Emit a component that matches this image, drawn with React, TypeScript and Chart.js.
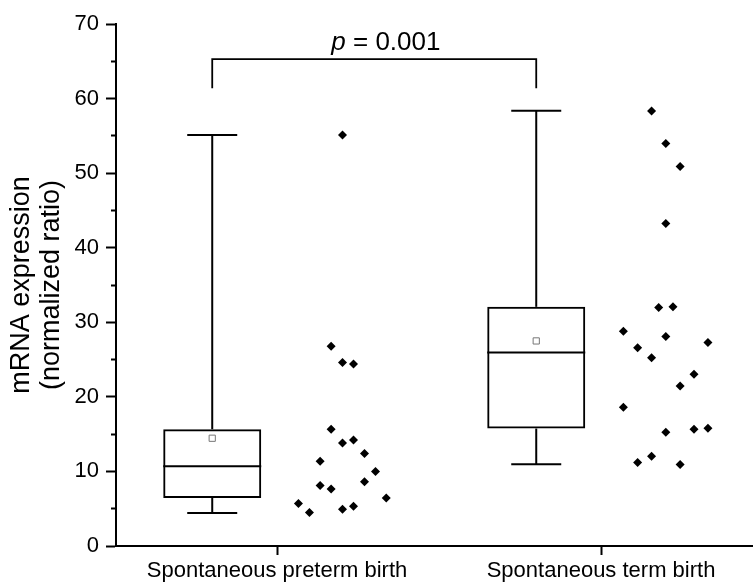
import { useEffect, useRef } from 'react';
import { Chart, registerables } from 'chart.js';

Chart.register(...registerables);

// ---- data ----
const categories = ['Spontaneous preterm birth', 'Spontaneous term birth'];
const categoryPos = [1, 2];
const boxOffset = -0.2;

const whiskerLow = [4.43, 10.96];
const q1 = [6.44, 15.75];
const median = [10.69, 25.95];
const q3 = [15.66, 32.07];
const whiskerHigh = [55.1, 58.37];
const mean = [14.45, 27.5];

const pretermValues = [5.69, 4.48, 11.37, 8.1, 26.8, 15.66, 7.65, 55.1, 24.6, 13.82, 4.92, 24.4, 14.2, 5.33, 12.4, 8.6, 10.0, 6.44];
const pretermJitter = [0.066, 0.1, 0.133, 0.133, 0.167, 0.167, 0.167, 0.202, 0.202, 0.202, 0.202, 0.236, 0.236, 0.236, 0.27, 0.27, 0.304, 0.337];

const termValues = [58.33, 53.99, 50.9, 43.26, 31.99, 32.07, 28.8, 28.1, 27.3, 26.57, 25.23, 23.04, 21.47, 18.6, 15.26, 15.66, 15.79, 11.19, 12.04, 10.92];
const termJitter = [0.156, 0.2, 0.244, 0.2, 0.178, 0.222, 0.069, 0.2, 0.33, 0.113, 0.156, 0.287, 0.244, 0.069, 0.2, 0.287, 0.33, 0.113, 0.156, 0.244];

const yMin = 0;
const yMax = 70;
const yMinorStep = 5;
const yMajorStep = 10;
const xMin = 0.503;
const xMax = 2.469;

const bracketTop = 65.3;
const bracketFoot = 61.4;
const pLabelItalic = 'p';
const pLabelRest = ' = 0.001';
const pLabelX = 1.336;
const pLabelY = 66.5;

const yTitle = ['mRNA expression', '(normalized ratio)'];

const FONT = "'Liberation Sans', Arial, Helvetica, sans-serif";

export default function App() {
  const ref = useRef<HTMLCanvasElement>(null);

  useEffect(() => {
    if (!ref.current) return;
    Chart.defaults.font.family = FONT;
    Chart.defaults.color = '#000';

    const boxX = categoryPos.map((c) => c + boxOffset);
    const datasets: any[] = [];

    datasets.push({
      type: 'scatter',
      data: pretermValues.map((y, i) => ({ x: categoryPos[0] + pretermJitter[i], y })),
      pointStyle: 'rectRot',
      pointRadius: 4.5,
      backgroundColor: '#000',
      borderWidth: 0,
    });
    datasets.push({
      type: 'scatter',
      data: termValues.map((y, i) => ({ x: categoryPos[1] + termJitter[i], y })),
      pointStyle: 'rectRot',
      pointRadius: 4.5,
      backgroundColor: '#000',
      borderWidth: 0,
    });
    // mean markers
    datasets.push({
      type: 'scatter',
      data: boxX.map((x, i) => ({ x, y: mean[i] })),
      pointStyle: 'rect',
      pointRadius: 4.4,
      backgroundColor: '#fff',
      borderColor: '#777',
      borderWidth: 1,
    });
    // medians
    datasets.push({
      type: 'scatter',
      data: boxX.map((x, i) => ({ x, y: median[i] })),
      pointStyle: 'line',
      pointRadius: 49,
      borderColor: '#000',
      borderWidth: 2,
    });
    // whisker caps
    datasets.push({
      type: 'scatter',
      data: [
        ...boxX.map((x, i) => ({ x, y: whiskerHigh[i] })),
        ...boxX.map((x, i) => ({ x, y: whiskerLow[i] })),
      ],
      pointStyle: 'line',
      pointRadius: 25,
      borderColor: '#000',
      borderWidth: 2,
    });
    // whiskers
    boxX.forEach((x, i) => {
      datasets.push({
        type: 'line',
        data: [{ x, y: q3[i] }, { x, y: whiskerHigh[i] }],
        borderColor: '#000',
        borderWidth: 2,
        pointRadius: 0,
        fill: false,
      });
      datasets.push({
        type: 'line',
        data: [{ x, y: whiskerLow[i] }, { x, y: q1[i] }],
        borderColor: '#000',
        borderWidth: 2,
        pointRadius: 0,
        fill: false,
      });
    });
    // boxes
    datasets.push({
      type: 'bar',
      data: boxX.map((x, i) => ({ x, y: [q1[i], q3[i]] })),
      grouped: false,
      maxBarThickness: 98,
      borderWidth: 2,
      borderColor: '#000',
      backgroundColor: 'rgba(0,0,0,0)',
      borderSkipped: false,
    });
    // significance bracket
    datasets.push({
      type: 'line',
      data: [
        { x: boxX[0], y: bracketFoot },
        { x: boxX[0], y: bracketTop },
        { x: boxX[1], y: bracketTop },
        { x: boxX[1], y: bracketFoot },
      ],
      borderColor: '#000',
      borderWidth: 1.8,
      pointRadius: 0,
      fill: false,
      tension: 0,
    });

    const pLabelPlugin = {
      id: 'pLabel',
      afterDatasetsDraw(chart: any) {
        const { ctx, scales } = chart;
        const cx = scales.x.getPixelForValue(pLabelX);
        const cy = scales.y.getPixelForValue(pLabelY);
        ctx.save();
        const fItalic = `italic 26px ${FONT}`;
        const fNormal = `26px ${FONT}`;
        ctx.font = fItalic;
        const w1 = ctx.measureText(pLabelItalic).width;
        ctx.font = fNormal;
        const w2 = ctx.measureText(pLabelRest).width;
        const start = cx - (w1 + w2) / 2;
        ctx.fillStyle = '#000';
        ctx.textBaseline = 'alphabetic';
        ctx.textAlign = 'left';
        ctx.font = fItalic;
        ctx.fillText(pLabelItalic, start, cy);
        ctx.font = fNormal;
        ctx.fillText(pLabelRest, start + w1, cy);
        ctx.restore();
      },
    };

    const chart = new Chart(ref.current, {
      type: 'scatter',
      data: { datasets },
      plugins: [pLabelPlugin],
      options: {
        animation: false,
        responsive: true,
        maintainAspectRatio: false,
        events: [],
        layout: { autoPadding: false, padding: { top: 24, right: 0, left: 0, bottom: 0 } },
        plugins: { legend: { display: false }, tooltip: { enabled: false } },
        scales: {
          x: {
            type: 'linear',
            min: xMin,
            max: xMax,
            offset: false,
            afterBuildTicks: (s: any) => {
              s.ticks = categoryPos.map((v) => ({ value: v }));
            },
            afterFit: (s: any) => {
              s.height = 39;
            },
            ticks: {
              autoSkip: false,
              maxRotation: 0,
              padding: 3,
              color: '#000',
              font: { size: 22 },
              callback: (v: any) => {
                const idx = categoryPos.indexOf(Number(v));
                return idx >= 0 ? categories[idx] : '';
              },
            },
            grid: {
              offset: false,
              drawOnChartArea: false,
              drawTicks: true,
              tickLength: 9,
              tickWidth: 2,
              tickColor: '#000',
            },
            border: { display: true, color: '#000', width: 2 },
          },
          y: {
            type: 'linear',
            min: yMin,
            max: yMax,
            afterFit: (s: any) => {
              s.width = 116;
            },
            ticks: {
              stepSize: yMinorStep,
              autoSkip: false,
              padding: 7,
              color: '#000',
              font: { size: 22 },
              callback: (v: any) => (Number(v) % yMajorStep === 0 ? String(v) : ''),
            },
            grid: {
              offset: false,
              drawOnChartArea: false,
              drawTicks: true,
              tickLength: 10,
              tickWidth: 2,
              tickColor: '#000',
              tickBorderDash: (c: any) =>
                c.tick && c.tick.value % yMajorStep !== 0 ? [0, 5, 5, 0] : [],
            },
            border: { display: true, color: '#000', width: 2 },
            title: {
              display: true,
              text: yTitle,
              color: '#000',
              font: { size: 27, lineHeight: 1.1 },
              padding: { top: 7, bottom: 0 },
            },
          },
        },
      },
    });
    return () => chart.destroy();
  }, []);

  return (
    <div style={{ position: 'fixed', left: 0, top: 0, width: 753, height: 585 }}>
      <canvas ref={ref} />
    </div>
  );
}
